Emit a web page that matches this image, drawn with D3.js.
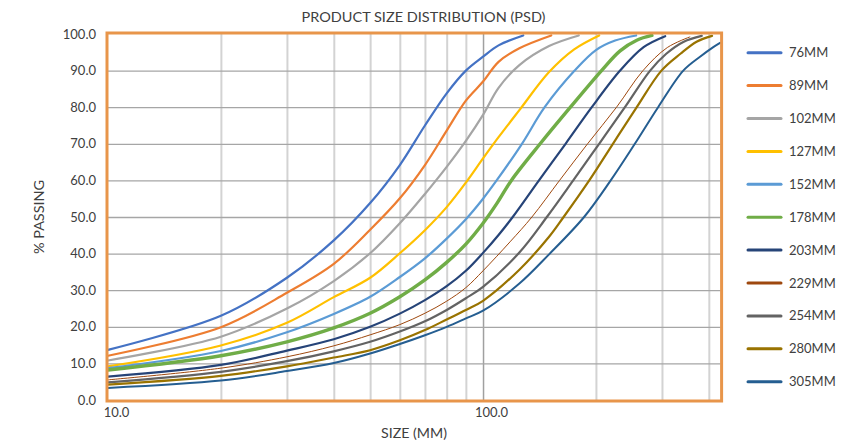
<!DOCTYPE html>
<html><head><meta charset="utf-8">
<script src="https://cdnjs.cloudflare.com/ajax/libs/d3/7.8.5/d3.min.js"></script>
<style>
html,body{margin:0;padding:0;background:#fff;}
svg text{font-family:Lato,"Open Sans",sans-serif;fill:#404040;}
</style></head>
<body><svg id="chart" width="847" height="442"></svg>
<script>
// ---- data ----
const seriesNames = ["76MM","89MM","102MM","127MM","152MM","178MM","203MM","229MM","254MM","280MM","305MM"];
const p76  = [[10,13.7],[20,23.0],[30,33.4],[40,43.6],[50,53.8],[60,64.2],[70,75.0],[80,83.8],[90,90.0],[100,93.8],[110,96.9],[128,99.6]];
const p89  = [[10,12.1],[20,19.9],[30,29.3],[40,37.2],[50,46.5],[60,55.1],[70,64.2],[80,73.6],[90,81.8],[100,87.0],[110,92.4],[125,96.1],[152,99.6]];
const p102 = [[10,10.8],[20,17.3],[30,25.0],[40,32.5],[50,40.1],[60,48.3],[70,56.3],[80,63.7],[90,70.8],[100,77.9],[110,85.3],[125,91.5],[150,96.7],[180,99.6]];
const p127 = [[10,9.2],[20,14.9],[30,21.1],[40,28.1],[50,33.4],[60,40.1],[70,46.4],[80,52.7],[90,59.4],[100,66.0],[110,71.8],[125,79.2],[150,89.6],[175,95.8],[204,99.6]];
const p152 = [[10,8.7],[20,13.4],[30,18.5],[40,23.5],[50,28.2],[60,33.6],[70,38.7],[80,44.1],[90,49.4],[100,55.0],[108.7,60],[127,70],[146,80],[175.5,90],[200,95.6],[225,98.2],[256,99.6]];
const p178 = [[10,8.2],[20,12.1],[30,15.9],[40,19.7],[50,23.7],[60,28.2],[70,32.8],[80,37.6],[90,42.6],[100,48.3],[109,53.8],[119,60],[142,70],[171,80],[207,90],[232,95.4],[257,98.3],[282,99.6]];
const p203 = [[10,6.4],[20,9.6],[30,13.5],[40,16.6],[50,20.0],[60,23.6],[70,27.3],[80,31.1],[90,35.3],[100,40.2],[110,45.1],[120,50],[141,60],[166,70],[195,80],[232,90],[268,96.4],[306,99.4]];
const p229 = [[10,5.5],[20,8.7],[30,11.8],[40,14.8],[50,17.8],[60,20.6],[70,23.7],[80,27.0],[90,30.7],[100,35.3],[118,43.2],[135,50],[160,60],[190,70],[227,80],[267,90],[310,96.3],[356,99.2]];
const p254 = [[10,4.8],[20,7.7],[30,10.6],[40,13.3],[50,15.9],[60,18.7],[70,21.5],[80,24.6],[90,27.8],[100,30.9],[125,40.3],[148,50],[174,60],[204,70],[239,80],[279,90],[308,94.6],[343,97.9],[383,99.5]];
const p280 = [[10,4.2],[20,6.6],[30,9.2],[40,11.6],[50,13.6],[60,16.3],[70,19.1],[80,22.0],[90,24.6],[100,27.1],[125,35.6],[150,44.6],[164,50],[192,60],[222,70],[257,80],[299,90],[336,94.6],[371,97.9],[408,99.5]];
const p305 = [[10,3.3],[20,5.3],[30,7.9],[40,10.1],[50,12.7],[60,15.3],[70,17.7],[80,20.0],[90,22.3],[100,24.4],[125,31.8],[150,39.8],[186,50],[219,60],[254,70],[293,80],[342,90],[379,93.8],[412,96.5],[428.6,97.6]];
const seriesValues = [p76,p89,p102,p127,p152,p178,p203,p229,p254,p280,p305];
const yTicks = [0,10,20,30,40,50,60,70,80,90,100];
const xLabelTicks = [10,100];
const xMinorTicks = [20,30,40,50,60,70,80,90,200,300,400];

// ---- styles ----
const colors = ["#4472C4","#ED7D31","#A5A5A5","#FFC000","#5B9BD5","#70AD47","#264478","#9E480E","#636363","#997300","#255E91"];
const widths = [2.2,2.2,2.2,2.2,2.2,3.4,2.2,1,2.2,2.2,2];

const svg = d3.select("#chart");
const L=108, R=720.6, T=34, B=400;
const x = d3.scaleLog().domain([10,430]).range([L,R]);
const y = d3.scaleLinear().domain([0,100]).range([B,T]);

// gridlines
svg.append("g").attr("transform",`translate(0,${B})`)
  .call(d3.axisBottom(x).tickValues(xMinorTicks).tickSize(-(B-T)).tickFormat(""))
  .call(g=>g.select(".domain").remove())
  .call(g=>g.selectAll("line").attr("stroke","#d3d3d3").attr("stroke-width",2));
svg.append("g").attr("transform",`translate(0,${B})`)
  .call(d3.axisBottom(x).tickValues([100]).tickSize(-(B-T)).tickFormat(""))
  .call(g=>g.select(".domain").remove())
  .call(g=>g.selectAll("line").attr("stroke","#a0a0a0").attr("stroke-width",1.5));
svg.append("g").attr("transform",`translate(${L},0)`)
  .call(d3.axisLeft(y).tickValues(yTicks.filter(v=>v>0&&v<100)).tickSize(-(R-L)).tickFormat(""))
  .call(g=>g.select(".domain").remove())
  .call(g=>g.selectAll("line").attr("stroke","#a6a6a6").attr("stroke-width",1.3));

// lines
const line = d3.line().x(d=>x(d[0])).y(d=>y(d[1])).curve(d3.curveCatmullRom.alpha(0.5));
svg.append("g").selectAll("path").data(seriesValues).join("path")
  .attr("d",line).attr("fill","none")
  .attr("stroke",(d,i)=>colors[i]).attr("stroke-width",(d,i)=>widths[i])
  .attr("stroke-linejoin","round").attr("stroke-linecap","round");

// border
svg.append("rect").attr("x",L-1).attr("y",T-1).attr("width",R-L+2).attr("height",B-T+2)
  .attr("fill","none").attr("stroke","#E8954A").attr("stroke-width",3);

// y axis labels
svg.append("g").attr("transform",`translate(${L-9},0)`)
  .call(d3.axisLeft(y).tickValues(yTicks).tickSize(0).tickFormat(d3.format(".1f")))
  .call(g=>g.select(".domain").remove())
  .call(g=>g.selectAll("text").attr("font-size",13).attr("fill","#404040").style("font-family","Lato"));

// x axis labels
svg.append("g").attr("transform",`translate(8,${B+5})`)
  .call(d3.axisBottom(x).tickValues(xLabelTicks).tickSize(0).tickFormat(d3.format(".1f")))
  .call(g=>g.select(".domain").remove())
  .call(g=>g.selectAll("text").attr("font-size",13).attr("fill","#404040").style("font-family","Lato"));

// titles
svg.append("text").attr("x",423.5).attr("y",22).attr("text-anchor","middle")
  .attr("font-size",13).attr("textLength",244).attr("lengthAdjust","spacingAndGlyphs")
  .text("PRODUCT SIZE DISTRIBUTION (PSD)");
svg.append("text").attr("x",414).attr("y",438).attr("text-anchor","middle")
  .attr("font-size",13).attr("textLength",66).attr("lengthAdjust","spacingAndGlyphs")
  .text("SIZE (MM)");
svg.append("text").attr("transform","translate(44,217) rotate(-90)").attr("text-anchor","middle")
  .attr("font-size",13).attr("textLength",74).attr("lengthAdjust","spacingAndGlyphs")
  .text("% PASSING");

// legend
const lg = svg.append("g").selectAll("g").data(seriesNames).join("g")
  .attr("transform",(d,i)=>`translate(748,${52.7+32.9*i})`);
lg.append("line").attr("x1",0).attr("x2",33).attr("stroke",(d,i)=>colors[i])
  .attr("stroke-width",3).attr("stroke-linecap","round");
lg.append("text").attr("x",41).attr("dy","0.35em").attr("font-size",13).text(d=>d);
</script></body></html>
